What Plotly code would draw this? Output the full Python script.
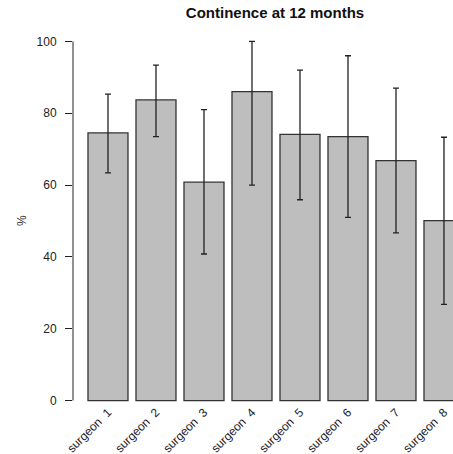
import plotly.graph_objects as go

surgeons = ["surgeon\u00a0\u00a01", "surgeon\u00a0\u00a02", "surgeon\u00a0\u00a03", "surgeon\u00a0\u00a04",
            "surgeon\u00a0\u00a05", "surgeon\u00a0\u00a06", "surgeon\u00a0\u00a07", "surgeon\u00a0\u00a08"]
continence = [74.5, 83.7, 60.8, 86.0, 74.1, 73.5, 66.8, 50.1]
upper = [85.3, 93.4, 81.0, 100.0, 92.0, 96.0, 87.0, 73.3]
lower = [63.4, 73.5, 40.8, 60.0, 55.9, 51.0, 46.7, 26.8]
y_ticks = [0, 20, 40, 60, 80, 100]

err_plus = [u - v for u, v in zip(upper, continence)]
err_minus = [v - l for v, l in zip(continence, lower)]

# the plotting region extends past the right edge of the window, as in the reference
W, H = 488, 454

fig = go.Figure()
fig.add_trace(go.Bar(
    x=surgeons, y=continence,
    marker=dict(color="#BEBEBE", line=dict(color="#333333", width=1.3)),
    error_y=dict(type="data", symmetric=False, array=err_plus, arrayminus=err_minus,
                 color="#222222", thickness=1.3, width=3),
    showlegend=False,
))

fig.update_layout(
    width=W, height=H,
    margin=dict(l=73, r=0, t=27, b=52, autoexpand=False),
    plot_bgcolor="white", paper_bgcolor="white",
    bargap=1/6,
    font=dict(family="Liberation Sans, Arial, sans-serif", size=12, color="#000000"),
    title=dict(text="<b>Continence at 12 months</b>", x=275 / W, xref="container", xanchor="center",
               y=1 - 12.5 / H, yref="container", yanchor="middle",
               font=dict(size=15, color="#111111")),
    xaxis=dict(range=[-0.729, 7.917], showline=False, ticks="", tickangle=-45, automargin=False,
               tickfont=dict(size=12, color="#222222"), showgrid=False, zeroline=False,
               ticklabelstandoff=0),
    yaxis=dict(range=[-0.4, 104], tickvals=y_ticks, ticks="outside", ticklen=7, automargin=False,
               tickcolor="#222222", tickwidth=1, showline=False, showgrid=False, zeroline=False,
               tickfont=dict(size=12, color="#222222"), ticklabelstandoff=6),
)

fig.add_shape(type="line", xref="paper", yref="y", x0=0, x1=0, y0=0, y1=100,
              line=dict(color="#222222", width=1))
fig.add_annotation(text="%", xref="paper", yref="y", x=0, y=50, xshift=-60,
                   textangle=-90, showarrow=False, font=dict(size=12, color="#333333"))

fig.write_html("out.html", config={"displayModeBar": False},
               post_script="document.body.style.margin='0';document.body.style.overflow='hidden';")
